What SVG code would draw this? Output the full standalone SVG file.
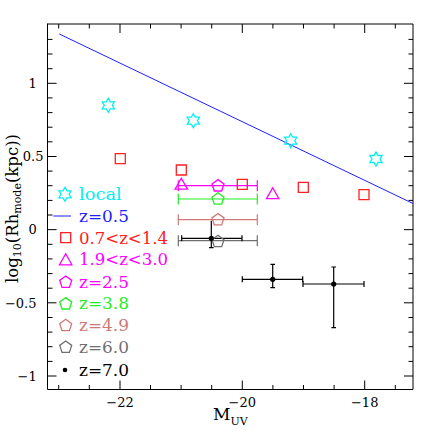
<svg xmlns="http://www.w3.org/2000/svg" width="436" height="436" viewBox="0 0 436 436">
<style>
text{font-family:"DejaVu Serif","Liberation Serif",serif}
.tick{font-size:13px;fill:#000}
.leg{font-size:16px}
.ax{stroke:#000;stroke-width:1;fill:none}
.sym{fill:none;stroke-width:1.3}
.eb{fill:none;stroke-width:1.2}
</style>
<defs>
<path id="star" d="M0,-7 L2.02,-3.5 L6.06,-3.5 L4.04,0 L6.06,3.5 L2.02,3.5 L0,7 L-2.02,3.5 L-6.06,3.5 L-4.04,0 L-6.06,-3.5 L-2.02,-3.5 Z"/>
<path id="sq" d="M-5,-5 H5 V5 H-5 Z"/>
<path id="tri" d="M0,-6 L6.2,5 L-6.2,5 Z"/>
<path id="pent" d="M0,-6.3 L5.99,-1.95 L3.7,5.1 L-3.7,5.1 L-5.99,-1.95 Z"/>
</defs>
<rect width="436" height="436" fill="#fff"/>

<g id="axes">
<path class="ax" d="M47.5,23.5 V389.5 H413"/>
<path class="ax" d="M47.5,24 H413 V389.5"/>
<path class="ax" d="M58.7,389.5v-4.5M89.3,389.5v-4.5M120,389.5v-9M150.5,389.5v-4.5M181.1,389.5v-4.5M211.7,389.5v-4.5M242.3,389.5v-9M272.9,389.5v-4.5M303.5,389.5v-4.5M334.1,389.5v-4.5M364.7,389.5v-9M395.3,389.5v-4.5"/>
<path class="ax" d="M58.7,24v4.5M89.3,24v4.5M120,24v9M150.5,24v4.5M181.1,24v4.5M211.7,24v4.5M242.3,24v9M272.9,24v4.5M303.5,24v4.5M334.1,24v4.5M364.7,24v9M395.3,24v4.5"/>
<path class="ax" d="M47.5,39.4h5M47.5,54h5M47.5,68.7h5M47.5,83.3h9M47.5,97.9h5M47.5,112.6h5M47.5,127.2h5M47.5,141.8h5M47.5,156.5h9M47.5,171.1h5M47.5,185.7h5M47.5,200.4h5M47.5,215h5M47.5,229.65h9M47.5,244.3h5M47.5,258.9h5M47.5,273.6h5M47.5,288.2h5M47.5,302.8h9M47.5,317.5h5M47.5,332.1h5M47.5,346.7h5M47.5,361.4h5M47.5,376h9"/>
<path class="ax" d="M413,39.4h-4.5M413,54h-4.5M413,68.7h-4.5M413,83.3h-9M413,97.9h-4.5M413,112.6h-4.5M413,127.2h-4.5M413,141.8h-4.5M413,156.5h-9M413,171.1h-4.5M413,185.7h-4.5M413,200.4h-4.5M413,215h-4.5M413,229.65h-9M413,244.3h-4.5M413,258.9h-4.5M413,273.6h-4.5M413,288.2h-4.5M413,302.8h-9M413,317.5h-4.5M413,332.1h-4.5M413,346.7h-4.5M413,361.4h-4.5M413,376h-9"/>
<text class="tick" x="120" y="407" text-anchor="middle">−22</text>
<text class="tick" x="242.3" y="407" text-anchor="middle">−20</text>
<text class="tick" x="364.7" y="407" text-anchor="middle">−18</text>
<text class="tick" x="36.7" y="88" text-anchor="end">1</text>
<text class="tick" x="43.5" y="161.2" text-anchor="end">0.5</text>
<text class="tick" x="36.7" y="234.3" text-anchor="end">0</text>
<text class="tick" x="36.5" y="307.5" text-anchor="end">−0.5</text>
<text class="tick" x="36.7" y="380.7" text-anchor="end">−1</text>
<text x="213" y="419.5" font-size="17">M<tspan font-size="11" dy="5.8">UV</tspan></text>
<text transform="translate(17.5,283) rotate(-90)" font-size="16.5">log<tspan font-size="11" dy="3">10</tspan><tspan dy="-3">(Rh</tspan><tspan font-size="11" dy="3">mode</tspan><tspan dy="-3">(kpc))</tspan></text>
</g>

<g id="connectors">
<line id="line-z05" x1="59.3" y1="34" x2="413" y2="203.5" stroke="#1f1fff" stroke-width="1"/>
<g class="eb" stroke="#ff00ff"><path d="M178.3,185.7H257.3M178.3,180.2v11M257.3,180.2v11"/></g>
<g class="eb" stroke="#22ee22"><path d="M178.3,199H257.3M178.3,193.5v11M257.3,193.5v11"/></g>
<g class="eb" stroke="#d07878"><path d="M178.3,219.7H257.3M178.3,214.2v11M257.3,214.2v11"/></g>
<g class="eb" stroke="#707070"><path d="M178.3,240.7H257.3M178.3,235.2v11M257.3,235.2v11"/></g>
<g class="eb" stroke="#000" stroke-width="1"><path d="M181.7,238.3H242M181.7,235.3v6M242,235.3v6M211.3,220.7V247.7M209,247.7h4.6"/></g>
<g class="eb" stroke="#000" stroke-width="1"><path d="M242.3,279.3H302.7M242.3,276.3v6M302.7,276.3v6M272.7,264.3V287.7M270.4,264.3h4.6M270.4,287.7h4.6"/></g>
<g class="eb" stroke="#000" stroke-width="1"><path d="M303,284H364M303,281v6M364,281v6M333.7,267V327.7M331.4,267h4.6M331.4,327.7h4.6"/></g>
</g>

<g id="local" class="sym" stroke="#00f0f0">
<use href="#star" x="108.3" y="105.3"/>
<use href="#star" x="193.3" y="120.7"/>
<use href="#star" x="290.7" y="140.7"/>
<use href="#star" x="376" y="159"/>
</g>
<g id="z07-14" class="sym" stroke="#ff2020">
<use href="#sq" x="120.3" y="158.7"/>
<use href="#sq" x="181.3" y="170"/>
<use href="#sq" x="242.3" y="184.3"/>
<use href="#sq" x="303.3" y="187.3"/>
<use href="#sq" x="364" y="194.7"/>
</g>
<g id="z19-30" class="sym" stroke="#ff00ff">
<use href="#tri" x="181.3" y="184.2"/>
<use href="#tri" x="272.7" y="193.7"/>
</g>
<g id="z25" class="sym" stroke="#ff00ff"><use href="#pent" x="218" y="185.9"/></g>
<g id="z38" class="sym" stroke="#22ee22"><use href="#pent" x="218" y="199.1"/></g>
<g id="z49" class="sym" stroke="#d07878"><use href="#pent" x="218" y="219.8"/></g>
<g id="z60" class="sym" stroke="#707070"><use href="#pent" x="218" y="241.6"/></g>
<g id="z70" fill="#000">
<circle cx="211.3" cy="238.3" r="2.6"/>
<circle cx="272.7" cy="279.3" r="2.6"/>
<circle cx="333.7" cy="284" r="2.6"/>
</g>

<g id="legend">
<use href="#star" x="65" y="194.3" class="sym" stroke="#00f0f0"/>
<text class="leg" x="79" y="200" fill="#00f0f0" textLength="42.7" lengthAdjust="spacingAndGlyphs">local</text>
<line x1="53.3" y1="216" x2="71" y2="216" stroke="#1f1fff" stroke-width="1"/>
<text class="leg" x="79" y="221.8" fill="#1f1fff" textLength="50" lengthAdjust="spacingAndGlyphs">z=0.5</text>
<use href="#sq" x="65.7" y="237.7" class="sym" stroke="#ff2020"/>
<text class="leg" x="79" y="243.5" fill="#ff2020" textLength="89" lengthAdjust="spacingAndGlyphs">0.7&lt;z&lt;1.4</text>
<use href="#tri" x="65.7" y="259.8" class="sym" stroke="#ff00ff"/>
<text class="leg" x="79" y="265.2" fill="#ff00ff" textLength="89" lengthAdjust="spacingAndGlyphs">1.9&lt;z&lt;3.0</text>
<use href="#pent" x="65.7" y="282.3" class="sym" stroke="#ff00ff"/>
<text class="leg" x="79" y="287.5" fill="#ff00ff" textLength="50" lengthAdjust="spacingAndGlyphs">z=2.5</text>
<use href="#pent" x="65.7" y="303.9" class="sym" stroke="#22ee22"/>
<text class="leg" x="79" y="309.2" fill="#22ee22" textLength="50" lengthAdjust="spacingAndGlyphs">z=3.8</text>
<use href="#pent" x="65.7" y="325.6" class="sym" stroke="#d07878"/>
<text class="leg" x="79" y="330.8" fill="#d07878" textLength="50" lengthAdjust="spacingAndGlyphs">z=4.9</text>
<use href="#pent" x="65.7" y="347.3" class="sym" stroke="#707070"/>
<text class="leg" x="79" y="352.5" fill="#707070" textLength="50" lengthAdjust="spacingAndGlyphs">z=6.0</text>
<circle cx="65" cy="370" r="2.3" fill="#000"/>
<text class="leg" x="79" y="375.8" fill="#000" textLength="50" lengthAdjust="spacingAndGlyphs">z=7.0</text>
</g>
</svg>
